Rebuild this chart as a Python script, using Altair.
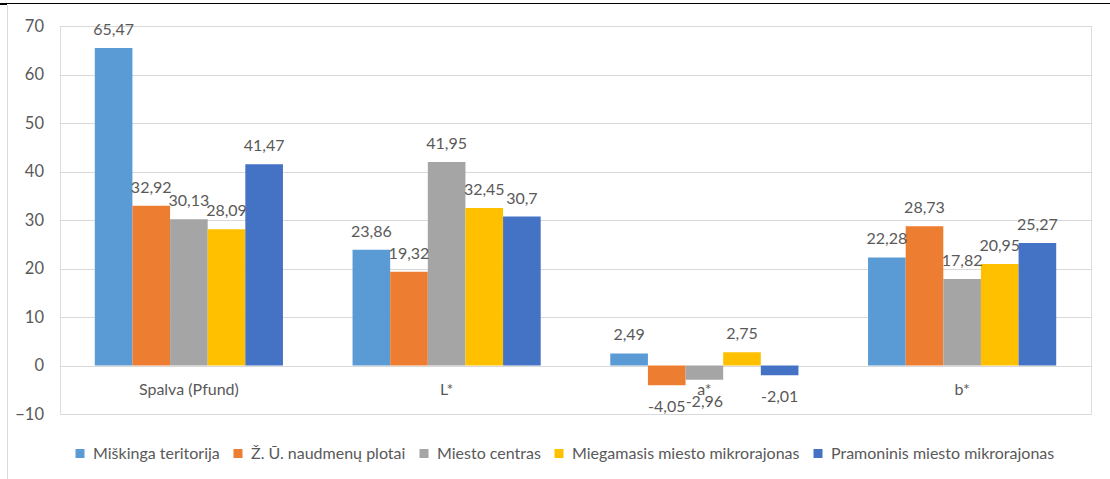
import altair as alt
import pandas as pd

# Colour measurements per land-use type
categories = ["Spalva (Pfund)", "L*", "a*", "b*"]
series = [
    "Miškinga teritorija",
    "Ž. Ū. naudmenų plotai",
    "Miesto centras",
    "Miegamasis miesto mikrorajonas",
    "Pramoninis miesto mikrorajonas",
]
colors = ["#5B9BD5", "#ED7D31", "#A5A5A5", "#FFC000", "#4472C4"]

miskinga = [65.47, 23.86, 2.49, 22.28]
zu_plotai = [32.92, 19.32, -4.05, 28.73]
miesto_centras = [30.13, 41.95, -2.96, 17.82]
miegamasis = [28.09, 32.45, 2.75, 20.95]
pramoninis = [41.47, 30.7, -2.01, 25.27]

y_ticks = [-10, 0, 10, 20, 30, 40, 50, 60, 70]

rows = []
for name, vals in zip(series, [miskinga, zu_plotai, miesto_centras, miegamasis, pramoninis]):
    for cat, v in zip(categories, vals):
        rows.append({"kategorija": cat, "serija": name, "reiksme": v,
                     "etikete": f"{v:g}".replace(".", ",")})
df = pd.DataFrame(rows)

FONT = "Lato"
GREY = "#595959"
FS = 16
W, H = 1031, 388

x_enc = alt.X("kategorija:N", sort=categories,
              scale=alt.Scale(paddingInner=0.27, paddingOuter=0.135),
              axis=alt.Axis(title=None, orient="bottom", offset=-48.5, domain=False,
                            ticks=False, tickSize=0, labelPadding=24,
                            labelBaseline="middle", labelAngle=0,
                            labelFontSize=FS, labelColor=GREY, labelFont=FONT))
xo_enc = alt.XOffset("serija:N", sort=series,
                     scale=alt.Scale(paddingInner=0, paddingOuter=0))
y_enc = alt.Y("reiksme:Q",
              scale=alt.Scale(domain=[-10, 70], nice=False, zero=False),
              axis=alt.Axis(title=None, values=y_ticks, domain=False, ticks=False,
                            labelPadding=16.5, grid=True, gridColor="#d9d9d9",
                            gridWidth=1, labelFontSize=FS + 0.5, labelColor=GREY,
                            labelFont=FONT))

base = alt.Chart(df)

bars = base.mark_bar().encode(
    x=x_enc,
    xOffset=xo_enc,
    y=y_enc,
    y2=alt.datum(0),
    color=alt.Color("serija:N", sort=series,
                    scale=alt.Scale(domain=series, range=colors),
                    legend=alt.Legend(title=None, orient="none", direction="horizontal",
                                      legendX=12, legendY=419.5, padding=0,
                                      symbolType="square", symbolSize=81,
                                      symbolStrokeWidth=0, labelOffset=5,
                                      columnPadding=10, labelFontSize=FS,
                                      labelColor=GREY, labelFont=FONT,
                                      labelLimit=400)),
)

pos_labels = base.transform_filter("datum.reiksme >= 0").mark_text(
    baseline="middle", dy=-18, fontSize=FS, color=GREY, font=FONT
).encode(x=alt.X("kategorija:N", sort=categories), xOffset=xo_enc,
         y="reiksme:Q", text="etikete:N")

neg_labels = base.transform_filter("datum.reiksme < 0").mark_text(
    baseline="middle", dy=22, fontSize=FS, color=GREY, font=FONT
).encode(x=alt.X("kategorija:N", sort=categories), xOffset=xo_enc,
         y="reiksme:Q", text="etikete:N")

# Frame lines around the chart object
frame_top = base.mark_rule(color="#000000", strokeWidth=1).encode(
    x=alt.value(-60), x2=alt.value(1050), y=alt.value(-22.5))
frame_top_corner = base.mark_rule(color="#000000", strokeWidth=2).encode(
    x=alt.value(-60), x2=alt.value(-53), y=alt.value(-22))
frame_left = base.mark_rule(color="#d9d9d9", strokeWidth=1).encode(
    x=alt.value(-52.5), y=alt.value(-21), y2=alt.value(453))

chart = alt.layer(bars, pos_labels, neg_labels, frame_top, frame_top_corner, frame_left).properties(
    width=W, height=H,
    autosize=alt.AutoSizeParams(type="none"),
    padding={"left": 60, "top": 26, "right": 19, "bottom": 65},
).configure_view(stroke=None).configure(background="white")

chart.save("out.html", embed_options={"renderer": "svg", "actions": False})
